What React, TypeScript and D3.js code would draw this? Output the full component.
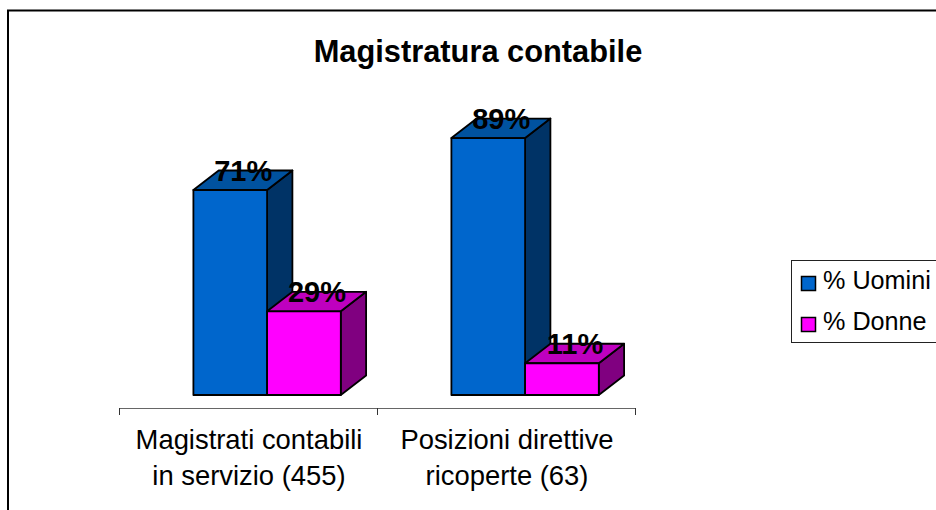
import React from "react";
import * as d3 from "d3";

const categories = ["Magistrati contabili|in servizio (455)", "Posizioni direttive|ricoperte (63)"];
const seriesNames = ["% Uomini", "% Donne"];
const uomini = [71, 89];
const donne = [29, 11];
const seriesValues = [uomini, donne];
const frontColors = ["#0066CC", "#FF00FF"];
const topColors = ["#00529F", "#BF00BF"];
const sideColors = ["#003366", "#800080"];

const font = "'Liberation Sans', Arial, sans-serif";
const depthX = 25.3;
const depthY = 19.5;
const barW = 73.7;

const x0 = d3.scaleBand<string>().domain(categories).range([119, 635]);
const y = d3.scaleLinear().domain([0, 100]).range([395, 106.3]);
const x1 = d3.scaleBand<string>().domain(seriesNames).range([74.4, 74.4 + 2 * barW]);
const poly = d3.line();

export default function App() {
  const items = seriesNames.flatMap((s, si) =>
    categories.map((c, ci) => ({ c, ci, s, si, v: seriesValues[si][ci] }))
  );
  // back bars first so that the nearer faces cover them
  const order = [...items].sort((a, b) => a.ci - b.ci || a.si - b.si);
  const ticks = [119, ...categories.map((c) => (x0(c) as number) + x0.bandwidth())];
  return (
    <svg
      width={936}
      height={510}
      style={{ position: "fixed", left: 0, top: 0, background: "#fff" }}
      fontFamily={font}
    >
      <path d="M8 510V10.5H936" fill="none" stroke="#000" strokeWidth={2} />
      <text x={478} y={62} textAnchor="middle" fontSize={30.8} fontWeight="bold">
        Magistratura contabile
      </text>

      {order.map((d) => {
        const l = (x0(d.c) as number) + (x1(d.s) as number);
        const r = l + barW;
        const t = y(d.v);
        const b = y(0);
        return (
          <g key={d.c + d.s} stroke="#000" strokeWidth={1.8} strokeLinejoin="round">
            <path
              d={poly([[r, t], [r + depthX, t - depthY], [r + depthX, b - depthY], [r, b]]) + "Z"}
              fill={sideColors[d.si]}
            />
            <path
              d={poly([[l, t], [l + depthX, t - depthY], [r + depthX, t - depthY], [r, t]]) + "Z"}
              fill={topColors[d.si]}
            />
            <rect x={l} y={t} width={barW} height={b - t} fill={frontColors[d.si]} />
          </g>
        );
      })}

      {order.map((d) => {
        const l = (x0(d.c) as number) + (x1(d.s) as number);
        return (
          <text
            key={d.c + d.s}
            x={l + barW / 2 + 13}
            y={y(d.v) - 9.2}
            textAnchor="middle"
            fontSize={29}
            fontWeight="bold"
            fill="#000"
          >
            {d.v}%
          </text>
        );
      })}

      <line x1={119} x2={635} y1={408.5} y2={408.5} stroke="#666" strokeWidth={1} />
      {ticks.map((t) => (
        <line key={t} x1={t + 0.5} x2={t + 0.5} y1={408} y2={415} stroke="#333" strokeWidth={1} />
      ))}

      {categories.map((c) => {
        const cx = (x0(c) as number) + x0.bandwidth() / 2 + 1;
        return c.split("|").map((ln, i) => (
          <text key={ln} x={cx} y={449 + i * 36} textAnchor="middle" fontSize={27.4} fill="#000">
            {ln}
          </text>
        ));
      })}

      <rect x={791.5} y={260.5} width={160} height={82} fill="#fff" stroke="#222" strokeWidth={1} />
      {seriesNames.map((s, i) => (
        <g key={s}>
          <rect
            x={801.5}
            y={276.5 + i * 41}
            width={14}
            height={14}
            fill={frontColors[i]}
            stroke="#000"
            strokeWidth={1.5}
          />
          <text x={823} y={289 + i * 41} fontSize={25.2} fill="#000">
            {s}
          </text>
        </g>
      ))}
    </svg>
  );
}
